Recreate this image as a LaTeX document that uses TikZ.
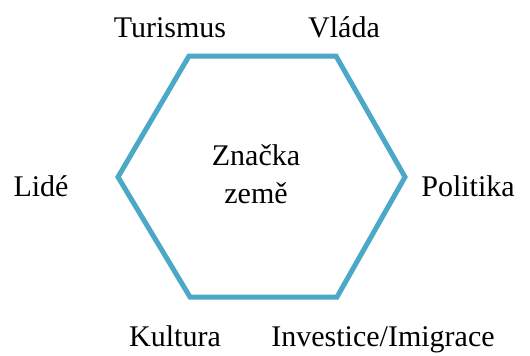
\documentclass[tikz,border=0pt]{standalone}
\usepackage{fontspec}
\setmainfont{Liberation Serif}
\usepackage{tikz}
\definecolor{hexblue}{RGB}{75,168,198}

\begin{document}
\begin{tikzpicture}[x=1pt,y=-1pt,font=\fontsize{30}{38}\selectfont,
  lab/.style={anchor=base,inner sep=0pt}]
\useasboundingbox (0,0) rectangle (530,356);
% hexagon
\coordinate (tl) at (189,56);\coordinate (tr) at (336,56);
\coordinate (r) at (405,177);\coordinate (br) at (337,297);
\coordinate (bl) at (190,297);\coordinate (l) at (118,177);
\draw[hexblue,line width=5pt,line join=miter] (tl)--(tr)--(r)--(br)--(bl)--(l)--cycle;
% labels
\node[lab] (tur) at (170,37) {Turismus};
\node[lab] (vla) at (344,37) {Vláda};
\node[lab] (lid) at (41,196) {Lidé};
\node[lab] (pol) at (468,196) {Politika};
\node[lab] (kul) at (175,346) {Kultura};
\node[lab] (inv) at (383,346) {Investice/Imigrace};
\node[lab,align=center] (zn) at (256,203) {Značka\\země};
\end{tikzpicture}
\end{document}
